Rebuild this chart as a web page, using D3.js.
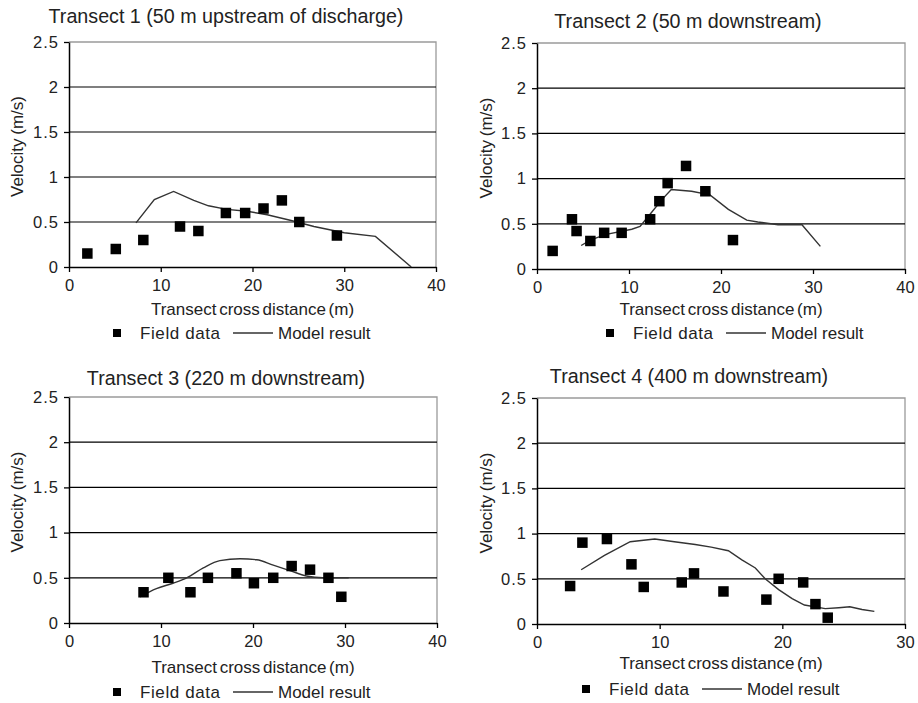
<!DOCTYPE html>
<html>
<head>
<meta charset="utf-8">
<script src="https://cdn.jsdelivr.net/npm/d3@7"></script>
<style>
  html, body { margin: 0; padding: 0; background: #fff; }
  svg { display: block; font-family: "Liberation Sans", Arial, sans-serif; }
</style>
</head>
<body>
<svg id="chart" width="918" height="703"></svg>
<script>
// Velocity tick labels shared by all four panels
const velocityTicks = [0, 0.5, 1, 1.5, 2, 2.5];
const distanceTicks40 = [0, 10, 20, 30, 40];
const distanceTicks30 = [0, 10, 20, 30];

// Transect 1 (50 m upstream of discharge)
const t1FieldX = [2.0, 5.1, 8.1, 12.1, 14.1, 17.1, 19.2, 21.2, 23.2, 25.1, 29.2];
const t1FieldV = [0.15, 0.20, 0.30, 0.45, 0.40, 0.60, 0.60, 0.65, 0.74, 0.50, 0.35];
const t1ModelX = [7.3, 9.3, 11.4, 13.6, 15.2, 17.2, 19.4, 21.6, 24.1, 26.7, 30.0, 33.4, 37.3];
const t1ModelV = [0.49, 0.75, 0.84, 0.74, 0.68, 0.64, 0.62, 0.58, 0.52, 0.45, 0.38, 0.34, 0.0];

// Transect 2 (50 m downstream)
const t2FieldX = [1.7, 3.8, 4.3, 5.8, 7.3, 9.2, 12.3, 13.3, 14.2, 16.2, 18.3, 21.3];
const t2FieldV = [0.20, 0.55, 0.42, 0.31, 0.40, 0.40, 0.55, 0.75, 0.95, 1.14, 0.86, 0.32];
const t2ModelX = [4.8, 5.8, 7.4, 10.3, 11.2, 12.4, 13.6, 14.6, 16.8, 18.8, 20.8, 22.8, 24.0, 26.2, 28.8, 30.8];
const t2ModelV = [0.26, 0.32, 0.38, 0.44, 0.47, 0.62, 0.77, 0.88, 0.86, 0.82, 0.66, 0.54, 0.52, 0.49, 0.49, 0.25];

// Transect 3 (220 m downstream)
const t3FieldX = [8.1, 10.8, 13.2, 15.1, 18.2, 20.1, 22.2, 24.2, 26.2, 28.2, 29.6];
const t3FieldV = [0.34, 0.50, 0.34, 0.50, 0.55, 0.44, 0.50, 0.63, 0.59, 0.50, 0.29];
const t3ModelX = [7.7, 9.5, 11.3, 12.8, 14.6, 16.4, 18.6, 20.4, 22.2, 24.0, 25.8, 27.6, 30.4];
const t3ModelV = [0.29, 0.38, 0.44, 0.50, 0.61, 0.69, 0.71, 0.70, 0.64, 0.58, 0.52, 0.50, 0.50];

// Transect 4 (400 m downstream)
const t4FieldX = [2.7, 3.7, 5.7, 7.7, 8.7, 11.8, 12.8, 15.2, 18.7, 19.7, 21.7, 22.7, 23.7];
const t4FieldV = [0.42, 0.90, 0.94, 0.66, 0.41, 0.46, 0.56, 0.36, 0.27, 0.50, 0.46, 0.22, 0.07];
const t4ModelX = [3.6, 5.5, 7.6, 9.6, 11.2, 12.9, 14.2, 15.6, 16.7, 17.8, 18.6, 19.7, 20.8, 21.8, 23.5, 24.6, 25.5, 26.5, 27.5];
const t4ModelV = [0.60, 0.76, 0.91, 0.94, 0.91, 0.88, 0.85, 0.81, 0.71, 0.62, 0.50, 0.38, 0.28, 0.21, 0.17, 0.18, 0.19, 0.16, 0.14];

const titles = [
  "Transect 1 (50 m upstream of discharge)",
  "Transect 2 (50 m downstream)",
  "Transect 3 (220 m downstream)",
  "Transect 4 (400 m downstream)"
];
const xTitle = "Transect cross distance (m)";
const yTitle = "Velocity (m/s)";
const legendLabels = ["Field data", "Model result"];

// Panel frames (plot rectangle plus text offsets)
const panels = [
  { title: titles[0], fx: t1FieldX, fv: t1FieldV, mx: t1ModelX, mv: t1ModelV, xMax: 40, xTicks: distanceTicks40,
    left: 69, right: 436, top: 42, bottom: 267, titleX: 226, titleY: 23, xTitleY: 315, yTitleX: 23, legendY: 339,
    legendSq: 117, smooth: false },
  { title: titles[1], fx: t2FieldX, fv: t2FieldV, mx: t2ModelX, mv: t2ModelV, xMax: 40, xTicks: distanceTicks40,
    left: 537, right: 905, top: 43, bottom: 269, titleX: 688, titleY: 28, xTitleY: 315, yTitleX: 492, legendY: 339,
    legendSq: 610, smooth: false },
  { title: titles[2], fx: t3FieldX, fv: t3FieldV, mx: t3ModelX, mv: t3ModelV, xMax: 40, xTicks: distanceTicks40,
    left: 69, right: 437, top: 397, bottom: 623, titleX: 226, titleY: 385, xTitleY: 673, yTitleX: 23, legendY: 698,
    legendSq: 117, smooth: true },
  { title: titles[3], fx: t4FieldX, fv: t4FieldV, mx: t4ModelX, mv: t4ModelV, xMax: 30, xTicks: distanceTicks30,
    left: 537, right: 905, top: 398, bottom: 624, titleX: 689, titleY: 383, xTitleY: 669, yTitleX: 492, legendY: 695,
    legendSq: 586, smooth: false }
];

const svg = d3.select("#chart");

panels.forEach(p => {
  const g = svg.append("g");
  const x = d3.scaleLinear().domain([0, p.xMax]).range([p.left, p.right]);
  const y = d3.scaleLinear().domain([0, 2.5]).range([p.bottom, p.top]);

  // Grey frame on top and right of the plot area
  g.append("path")
    .attr("d", `M${p.left},${y(2.5)}H${p.right}V${p.bottom}`)
    .attr("fill", "none").attr("stroke", "#9a9a9a").attr("stroke-width", 1.3);

  // Horizontal gridlines
  g.selectAll("line.grid").data(velocityTicks.filter(v => v > 0 && v < 2.5)).enter()
    .append("line").attr("class", "grid")
    .attr("x1", p.left).attr("x2", p.right)
    .attr("y1", d => y(d)).attr("y2", d => y(d))
    .attr("stroke", "#000").attr("stroke-width", 1.2);

  // Axes
  const yAxis = g.append("g").attr("transform", `translate(${p.left},0)`)
    .call(d3.axisLeft(y).tickValues(velocityTicks).tickSize(5).tickSizeOuter(0).tickPadding(5).tickFormat(d3.format("")));
  const xAxis = g.append("g").attr("transform", `translate(0,${p.bottom})`)
    .call(d3.axisBottom(x).tickValues(p.xTicks).tickSize(5).tickSizeOuter(0).tickPadding(7).tickFormat(d3.format("")));
  [yAxis, xAxis].forEach(a => {
    a.select(".domain").attr("stroke", "#000").attr("stroke-width", 1.5);
    a.selectAll(".tick line").attr("stroke", "#000").attr("stroke-width", 1.3);
    a.selectAll(".tick text").attr("fill", "#222").style("font-size", "16.5px")
      .style("font-family", "'Liberation Sans', Arial, sans-serif");
  });
  yAxis.selectAll(".tick text").attr("letter-spacing", "1px");

  // Model result line
  const line = d3.line()
    .x((d, i) => x(p.mx[i]))
    .y((d, i) => y(p.mv[i]))
    .curve(p.smooth ? d3.curveMonotoneX : d3.curveLinear);
  g.append("path").datum(p.mx)
    .attr("d", line)
    .attr("fill", "none").attr("stroke", "#333").attr("stroke-width", 1.4);

  // Field data squares
  const s = 10.5;
  g.selectAll("rect.field").data(p.fx).enter()
    .append("rect").attr("class", "field")
    .attr("x", (d, i) => x(d) - s / 2)
    .attr("y", (d, i) => y(p.fv[i]) - s / 2)
    .attr("width", s).attr("height", s)
    .attr("fill", "#000");

  // Titles
  g.append("text").attr("x", p.titleX).attr("y", p.titleY)
    .attr("text-anchor", "middle").style("font-size", "19.7px").attr("fill", "#222")
    .text(p.title);
  g.append("text").attr("x", (p.left + p.right) / 2).attr("y", p.xTitleY)
    .attr("text-anchor", "middle").style("font-size", "17px").attr("fill", "#222")
    .attr("word-spacing", "-2px")
    .text(xTitle);
  g.append("text")
    .attr("transform", `translate(${p.yTitleX},${(p.top + p.bottom) / 2 - 8}) rotate(-90)`)
    .attr("text-anchor", "middle").style("font-size", "17px").attr("fill", "#222")
    .attr("word-spacing", "-1px")
    .text(yTitle);

  // Legend
  const lg = g.append("g");
  lg.append("rect").attr("x", p.legendSq - 4).attr("y", p.legendY - 10).attr("width", 8).attr("height", 8).attr("fill", "#000");
  lg.append("text").attr("x", p.legendSq + 23).attr("y", p.legendY)
    .style("font-size", "17px").attr("fill", "#222").attr("letter-spacing", "0.6px").text(legendLabels[0]);
  lg.append("line").attr("x1", p.legendSq + 116).attr("x2", p.legendSq + 156)
    .attr("y1", p.legendY - 6).attr("y2", p.legendY - 6)
    .attr("stroke", "#333").attr("stroke-width", 1.4);
  lg.append("text").attr("x", p.legendSq + 161).attr("y", p.legendY)
    .style("font-size", "17px").attr("fill", "#222").text(legendLabels[1]);
});
</script>
</body>
</html>
